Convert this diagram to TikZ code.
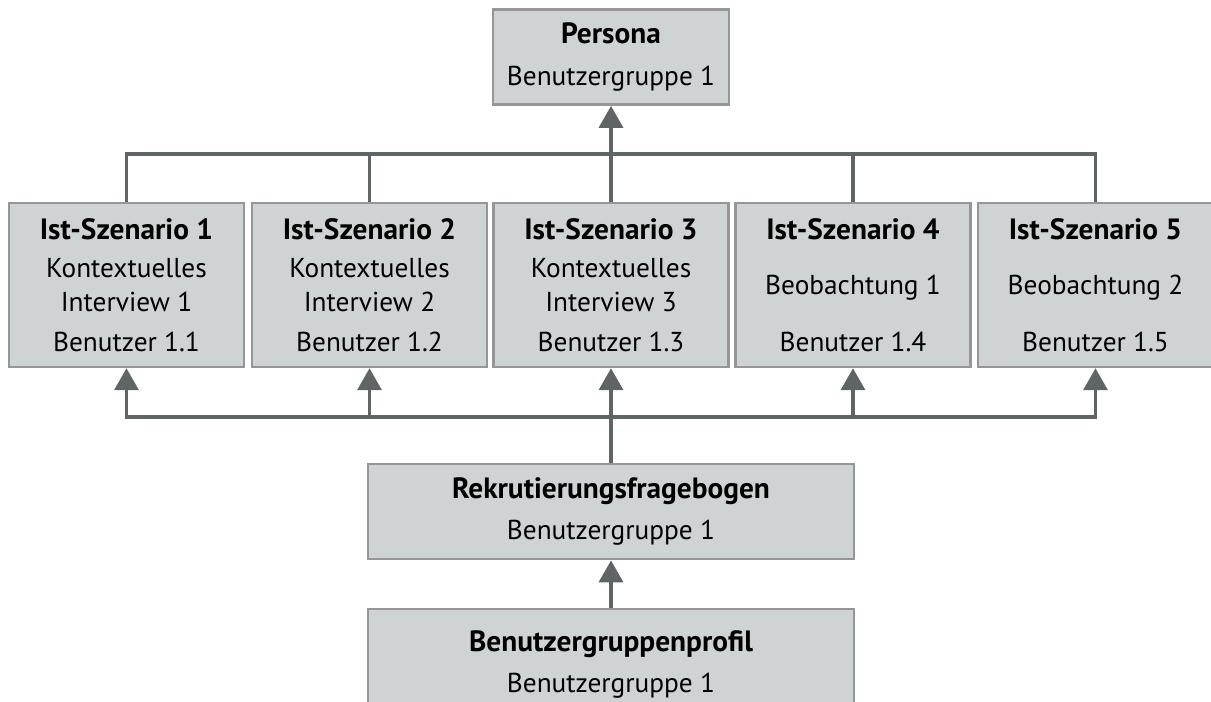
\documentclass[tikz,border=0pt]{standalone}
\usepackage{fontspec}
\setmainfont{PT Sans}
\usetikzlibrary{arrows.meta}

\definecolor{boxfill}{RGB}{207,211,211}
\definecolor{boxline}{RGB}{150,150,153}
\definecolor{connline}{RGB}{96,100,100}

\newcommand{\boxtitle}[1]{{\fontsize{22}{26}\selectfont\bfseries #1}}

\tikzset{every picture/.style={line width=0.75pt}}
\tikzset{
  box/.style={draw=boxline, fill=boxfill, line width=1.8pt, inner sep=0pt, align=center,
    font=\fontsize{20.5}{25.5}\selectfont},
  scenbox/.style={box, minimum width=176.25pt, minimum height=123pt},
  groupbox/.style={box, minimum height=71.5pt},
  conn/.style={draw=connline, line width=2.6pt},
  arr/.style={conn, -{Triangle[width=18pt,length=16.5pt]}}
}

\begin{document}
\begin{tikzpicture}[x=0.75pt,y=0.75pt,yscale=-1,xscale=1]
\useasboundingbox (0,0) rectangle (1211,701);

%Top
\node[groupbox, minimum width=177pt] (pers) at (611,57) {\boxtitle{Persona}\\[6pt] Benutzergruppe 1};

%Ist-Szenarien
\node[scenbox] (s1) at (126.5,285) {\boxtitle{Ist-Szenario 1}\\[3pt] Kontextuelles\\ Interview 1\\[4.5pt] Benutzer 1.1};
\node[scenbox] (s2) at (369.5,285) {\boxtitle{Ist-Szenario 2}\\[3pt] Kontextuelles\\ Interview 2\\[4.5pt] Benutzer 1.2};
\node[scenbox] (s3) at (611,285) {\boxtitle{Ist-Szenario 3}\\[3pt] Kontextuelles\\ Interview 3\\[4.5pt] Benutzer 1.3};
\node[scenbox] (s4) at (853,285) {\boxtitle{Ist-Szenario 4}\\[16pt] Beobachtung 1\\[17pt] Benutzer 1.4};
\node[scenbox] (s5) at (1095.5,285) {\boxtitle{Ist-Szenario 5}\\[16pt] Beobachtung 2\\[17pt] Benutzer 1.5};

%Bottom
\node[groupbox, minimum width=364.5pt] (rek) at (611,511.5) {\boxtitle{Rekrutierungsfragebogen}\\[5pt] Benutzergruppe 1};
\node[groupbox, minimum width=364.5pt, minimum height=82.5pt, anchor=north] (prof) at (611,608) {\boxtitle{Benutzergruppenprofil}\\[5pt] Benutzergruppe 1};

\coordinate (topbus) at (611,154);
\coordinate (botbus) at (611,417);

%Connectors up to Persona
\draw[conn] (s1.north) |- (topbus) -| (s5.north);
\draw[conn] (s2.north) -- (s2.north |- topbus);
\draw[conn] (s4.north) -- (s4.north |- topbus);
\draw[arr] (s3.north) -- (pers.south);

%Connectors from Rekrutierungsfragebogen
\draw[arr] (rek.north) -- (s3.south);
\foreach \s in {s1,s2,s4,s5}
  \draw[arr] (botbus) -| (\s.south);
\draw[arr] (prof.north) -- (rek.south);

\end{tikzpicture}
\end{document}
